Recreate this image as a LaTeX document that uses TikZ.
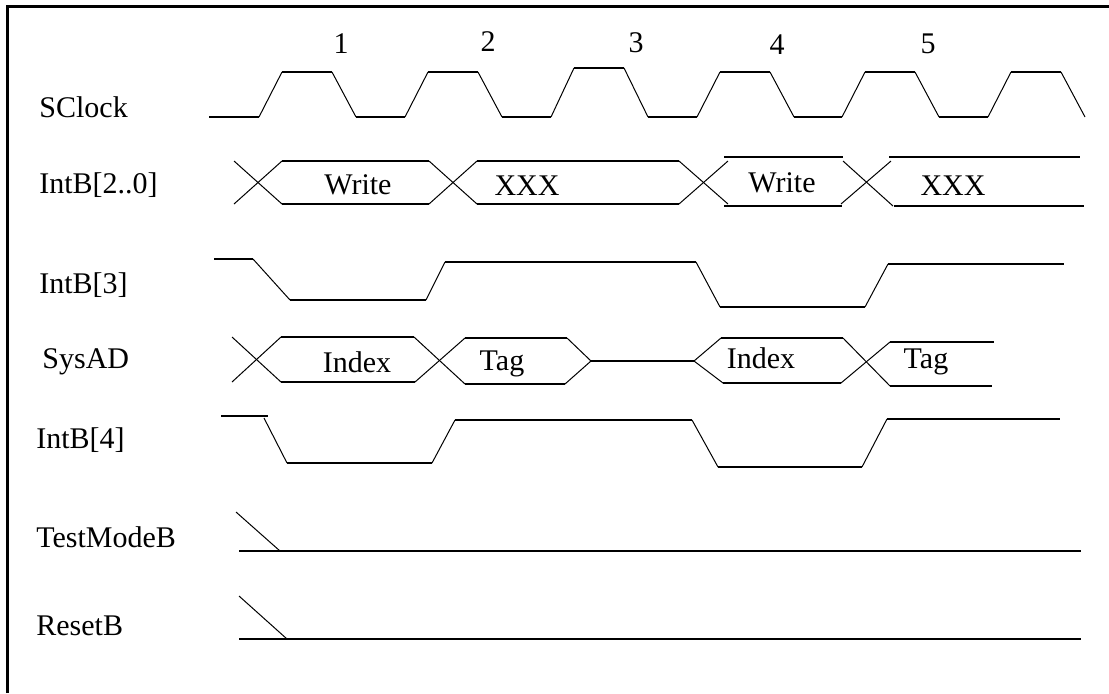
\documentclass[tikz,border=0pt]{standalone}
\usepackage{fontspec}
\setmainfont{Liberation Serif}

\tikzset{
  lvl/.style={line width=1pt},
  edg/.style={line width=0.5pt},
  sig/.style={anchor=base west,inner sep=0pt},
  val/.style={anchor=base,inner sep=0pt},
}

\begin{document}
\begin{tikzpicture}[x=0.5pt,y=-0.5pt,font=\fontsize{15}{18}\selectfont]
  \useasboundingbox (0,0) rectangle (1109,693);
  \draw[line width=1.5pt] (7.5,693) -- (7.5,6.5) -- (1109,6.5);

  % cycle numbers and signal names
  \foreach \n/\x/\y in {1/341/53,2/488/51,3/636/52,4/777/54,5/928/53}{\node[val] (n\n) at (\x,\y) {\n};}
  \node[sig] (clk) at (39,117) {SClock};
  \node[sig] (intlo) at (39,193) {IntB[2..0]};
  \node[sig] (int3) at (39,293) {IntB[3]};
  \node[sig] (sysad) at (42,368) {SysAD};
  \node[sig] (int4) at (36,448) {IntB[4]};
  \node[sig] (tmode) at (36,547) {TestModeB};
  \node[sig] (rst) at (36,635) {ResetB};

  % SClock: rise, high, fall for every pulse
  \draw[lvl] (209,117) -- (259,117);
  \foreach \r/\h/\nx in {259/72/405,405/72/551,551/68/697,697/72/842,842/72/988}{
    \draw[edg] (\r,117) -- (\r+23,\h);
    \draw[lvl] (\r+23,\h) -- (\r+73,\h);
    \draw[edg] (\r+73,\h) -- (\r+97,117);
    \draw[lvl] (\r+97,117) -- (\nx,117);
  }
  \draw[edg] (988,117) -- (1011,72);
  \draw[lvl] (1011,72) -- (1061,72);
  \draw[edg] (1061,72) -- (1085,117);

  % IntB[2..0]
  \foreach \a/\b/\y in {282/429/161,282/429/204,477/679/161,477/679/204,
                        724/843/157,724/842/206,889/1080/157,894/1084/206}{\draw[lvl] (\a,\y) -- (\b,\y);}
  \foreach \a/\p/\b/\q in {234/161/282/204,234/204/282/161,429/161/477/204,429/204/477/161,
                           679/161/728/204,679/204/728/161,843/161/893/206,841/204/891/161}{\draw[edg] (\a,\p) -- (\b,\q);}
  \node[val] (w1) at (358,194) {Write};
  \node[val] (x1) at (527,195) {XXX};
  \node[val] (w2) at (782,192) {Write};
  \node[val] (x2) at (953,195) {XXX};

  % IntB[3]
  \foreach \a/\b/\y in {214/253/259,290/426/300,445/696/262,720/865/307,888/1064/264}{\draw[lvl] (\a,\y) -- (\b,\y);}
  \foreach \a/\p/\b/\q in {253/259/290/300,426/300/445/262,696/262/720/307,865/307/888/264}{\draw[edg] (\a,\p) -- (\b,\q);}

  % SysAD
  \foreach \a/\b/\y in {281/414/337,281/415/382,465/567/338,465/565/384,591/694/361,
                        721/843/338,723/841/383,890/994/342,890/992/386}{\draw[lvl] (\a,\y) -- (\b,\y);}
  \foreach \a/\p/\b/\q in {232/337/281/382,232/382/281/337,414/337/465/384,415/382/465/338,
                           567/338/591/361,565/384/591/361,694/361/721/338,694/361/723/383,
                           843/338/890/386,841/383/890/342}{\draw[edg] (\a,\p) -- (\b,\q);}
  \node[val] (i1) at (357,372) {Index};
  \node[val] (t1) at (502,370) {Tag};
  \node[val] (i2) at (761,368) {Index};
  \node[val] (t2) at (926,368) {Tag};

  % IntB[4]
  \foreach \a/\b/\y in {221/268/416,287/432/463,455/692/420,718/862/467,887/1060/419}{\draw[lvl] (\a,\y) -- (\b,\y);}
  \foreach \a/\p/\b/\q in {264/418/287/463,432/463/455/420,692/420/718/467,862/467/887/419}{\draw[edg] (\a,\p) -- (\b,\q);}

  % TestModeB, ResetB
  \draw[edg] (236,512) -- (280,551);
  \draw[lvl] (239,551) -- (1081,551);
  \draw[edg] (239,596) -- (287,639);
  \draw[lvl] (239,639) -- (1081,639);
\end{tikzpicture}
\end{document}
